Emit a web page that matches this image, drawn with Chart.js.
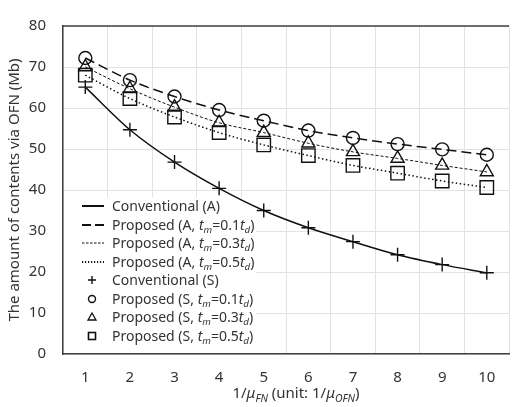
<!DOCTYPE html>
<html>
<head>
<meta charset="utf-8">
<script src="https://cdn.jsdelivr.net/npm/chart.js@4.4.0/dist/chart.umd.min.js"></script>
<style>
    html, body { margin: 0; padding: 0; background: #fff; overflow: hidden; }
    #wrap { position: relative; width: 517px; height: 407px; overflow: hidden; font-family: 'Noto Sans', sans-serif; color: #333; }
    #chart { position: absolute; left: 0; top: 0; }
    #legend { position: absolute; left: 64px; top: 197px; width: 192px; font-size: 14px; }
    .row { height: 18.5px; line-height: 18.5px; white-space: nowrap; display: flex; align-items: center; }
    .row svg { width: 48px; height: 18px; flex: none; }
    sub { font-size: 70%; line-height: 0; vertical-align: -0.35em; }
    #xtitle { position: absolute; left: 0; width: 592px; top: 382px; text-align: center; font-size: 15px; white-space: nowrap; }
</style>
</head>
<body>
<div id="wrap">
    <canvas id="chart" width="520" height="407"></canvas>
    <div id="legend"></div>
    <div id="xtitle">1/<i>μ</i><sub><i>FN</i></sub> (unit: 1/<i>μ</i><sub><i>OFN</i></sub>)</div>
</div>
<script>
// x categories
const xLabels = ['1', '2', '3', '4', '5', '6', '7', '8', '9', '10'];

// values (Mb)
const conventional = [65.1, 54.7, 46.8, 40.4, 35.0, 30.8, 27.4, 24.2, 21.8, 19.8];
const proposed01 = [72.2, 66.8, 62.8, 59.5, 56.9, 54.5, 52.7, 51.2, 49.9, 48.6];
const proposed03 = [70.0, 64.7, 60.2, 56.4, 54.0, 51.4, 49.3, 47.7, 46.0, 44.4];
const proposed05 = [68.0, 62.3, 57.8, 54.0, 51.0, 48.4, 46.0, 44.1, 42.2, 40.6];

const yTicks = { min: 0, max: 80, step: 10 };

const ink = '#111';
const axisColor = '#404040';
const gridColor = '#e2e2e2';

function lineSet(label, values, dash, width) {
    return {
        label: label,
        data: values,
        borderColor: ink,
        borderWidth: width,
        borderDash: dash,
        borderCapStyle: 'butt',
        pointRadius: 0,
        fill: false,
        tension: 0.4,
        cubicInterpolationMode: 'monotone'
    };
}

function markerSet(label, values, style, radius) {
    return {
        label: label,
        data: values,
        showLine: false,
        pointStyle: style,
        pointRadius: radius,
        pointBorderColor: ink,
        pointBorderWidth: 1.4,
        pointBackgroundColor: 'rgba(0,0,0,0)'
    };
}

// White legend panel under the series (hides the grid), and the top frame line
const panelAndFrame = {
    id: 'panelAndFrame',
    beforeDatasetsDraw(chart) {
        const ctx = chart.ctx;
        ctx.save();
        ctx.fillStyle = '#fff';
        ctx.fillRect(64, 197, 192, 156);
        ctx.restore();
    },
    afterDraw(chart) {
        const a = chart.chartArea;
        const ctx = chart.ctx;
        ctx.save();
        ctx.strokeStyle = axisColor;
        ctx.lineWidth = 1.5;
        ctx.beginPath();
        ctx.moveTo(a.left, a.top);
        ctx.lineTo(a.right, a.top);
        ctx.stroke();
        ctx.restore();
    }
};

const ctx = document.getElementById('chart').getContext('2d');
const chart = new Chart(ctx, {
    type: 'line',
    data: {
        labels: xLabels,
        datasets: [
            lineSet('Conventional (A)', conventional, [], 1.5),
            lineSet('Proposed (A, tm=0.1td)', proposed01, [10, 5], 1.5),
            lineSet('Proposed (A, tm=0.3td)', proposed03, [3, 2], 1),
            lineSet('Proposed (A, tm=0.5td)', proposed05, [1.5, 2.5], 1.5),
            markerSet('Conventional (S)', conventional, 'cross', 7),
            markerSet('Proposed (S, tm=0.1td)', proposed01, 'circle', 6.5),
            markerSet('Proposed (S, tm=0.3td)', proposed03, 'triangle', 7.5),
            markerSet('Proposed (S, tm=0.5td)', proposed05, 'rect', 9.5)
        ]
    },
    options: {
        responsive: false,
        animation: false,
        events: [],
        layout: { padding: { top: 14, right: 0, left: 0, bottom: 0 } },
        plugins: {
            legend: { display: false },
            tooltip: { enabled: false }
        },
        scales: {
            x: {
                offset: true,
                grid: { offset: true, color: gridColor, lineWidth: 1, drawTicks: false },
                border: { color: axisColor, width: 1.5 },
                ticks: {
                    color: '#333',
                    padding: 15,
                    font: { family: 'Noto Sans', size: 15 },
                    maxRotation: 0
                },
                afterFit: function(scale) { scale.height = 53; }
            },
            y: {
                min: yTicks.min,
                max: yTicks.max,
                grid: { color: gridColor, lineWidth: 1, drawTicks: false },
                border: { color: axisColor, width: 1.5 },
                ticks: {
                    stepSize: yTicks.step,
                    color: '#333',
                    padding: 17,
                    font: { family: 'Noto Sans', size: 15 }
                },
                title: {
                    display: true,
                    text: 'The amount of contents via OFN (Mb)',
                    color: '#333',
                    font: { family: 'Noto Sans', size: 15 },
                    padding: { top: 6, bottom: 0 }
                },
                afterFit: function(scale) { scale.width = 63; }
            }
        }
    },
    plugins: [panelAndFrame]
});

// HTML legend (needs italic subscripts)
const tm = '<i>t</i><sub><i>m</i></sub>';
const td = '<i>t</i><sub><i>d</i></sub>';
const legendRows = [
    ['line', '', 'Conventional (A)'],
    ['line', '9,4', 'Proposed (A, ' + tm + '=0.1' + td + ')'],
    ['line', '2.5,1.5', 'Proposed (A, ' + tm + '=0.3' + td + ')'],
    ['line', '1.2,1.8', 'Proposed (A, ' + tm + '=0.5' + td + ')'],
    ['cross', '', 'Conventional (S)'],
    ['circle', '', 'Proposed (S, ' + tm + '=0.1' + td + ')'],
    ['triangle', '', 'Proposed (S, ' + tm + '=0.3' + td + ')'],
    ['rect', '', 'Proposed (S, ' + tm + '=0.5' + td + ')']
];

function sample(kind, dash) {
    const cx = 28, cy = 9;
    let s = '';
    if (kind === 'line') {
        const w = dash === '2.5,1.5' ? 1 : 2;
        s = '<line x1="18" y1="9" x2="40" y2="9" stroke="#111" stroke-width="' + w + '"' +
            (dash ? ' stroke-dasharray="' + dash + '"' : '') + '/>';
    } else if (kind === 'cross') {
        s = '<path d="M' + (cx - 4) + ' ' + cy + 'H' + (cx + 4) + 'M' + cx + ' ' + (cy - 4) + 'V' + (cy + 4) + '" stroke="#111" stroke-width="1.4"/>';
    } else if (kind === 'circle') {
        s = '<circle cx="' + cx + '" cy="' + cy + '" r="3.5" fill="none" stroke="#111" stroke-width="1.4"/>';
    } else if (kind === 'triangle') {
        s = '<path d="M' + cx + ' ' + (cy - 4) + 'L' + (cx + 4) + ' ' + (cy + 3) + 'L' + (cx - 4) + ' ' + (cy + 3) + 'Z" fill="none" stroke="#111" stroke-width="1.3"/>';
    } else {
        s = '<rect x="' + (cx - 3.5) + '" y="' + (cy - 3.5) + '" width="7" height="7" fill="none" stroke="#111" stroke-width="1.6"/>';
    }
    return '<svg viewBox="0 0 48 18">' + s + '</svg>';
}

document.getElementById('legend').innerHTML = legendRows.map(function(r) {
    return '<div class="row">' + sample(r[0], r[1]) + '<span>' + r[2] + '</span></div>';
}).join('');
</script>
</body>
</html>
